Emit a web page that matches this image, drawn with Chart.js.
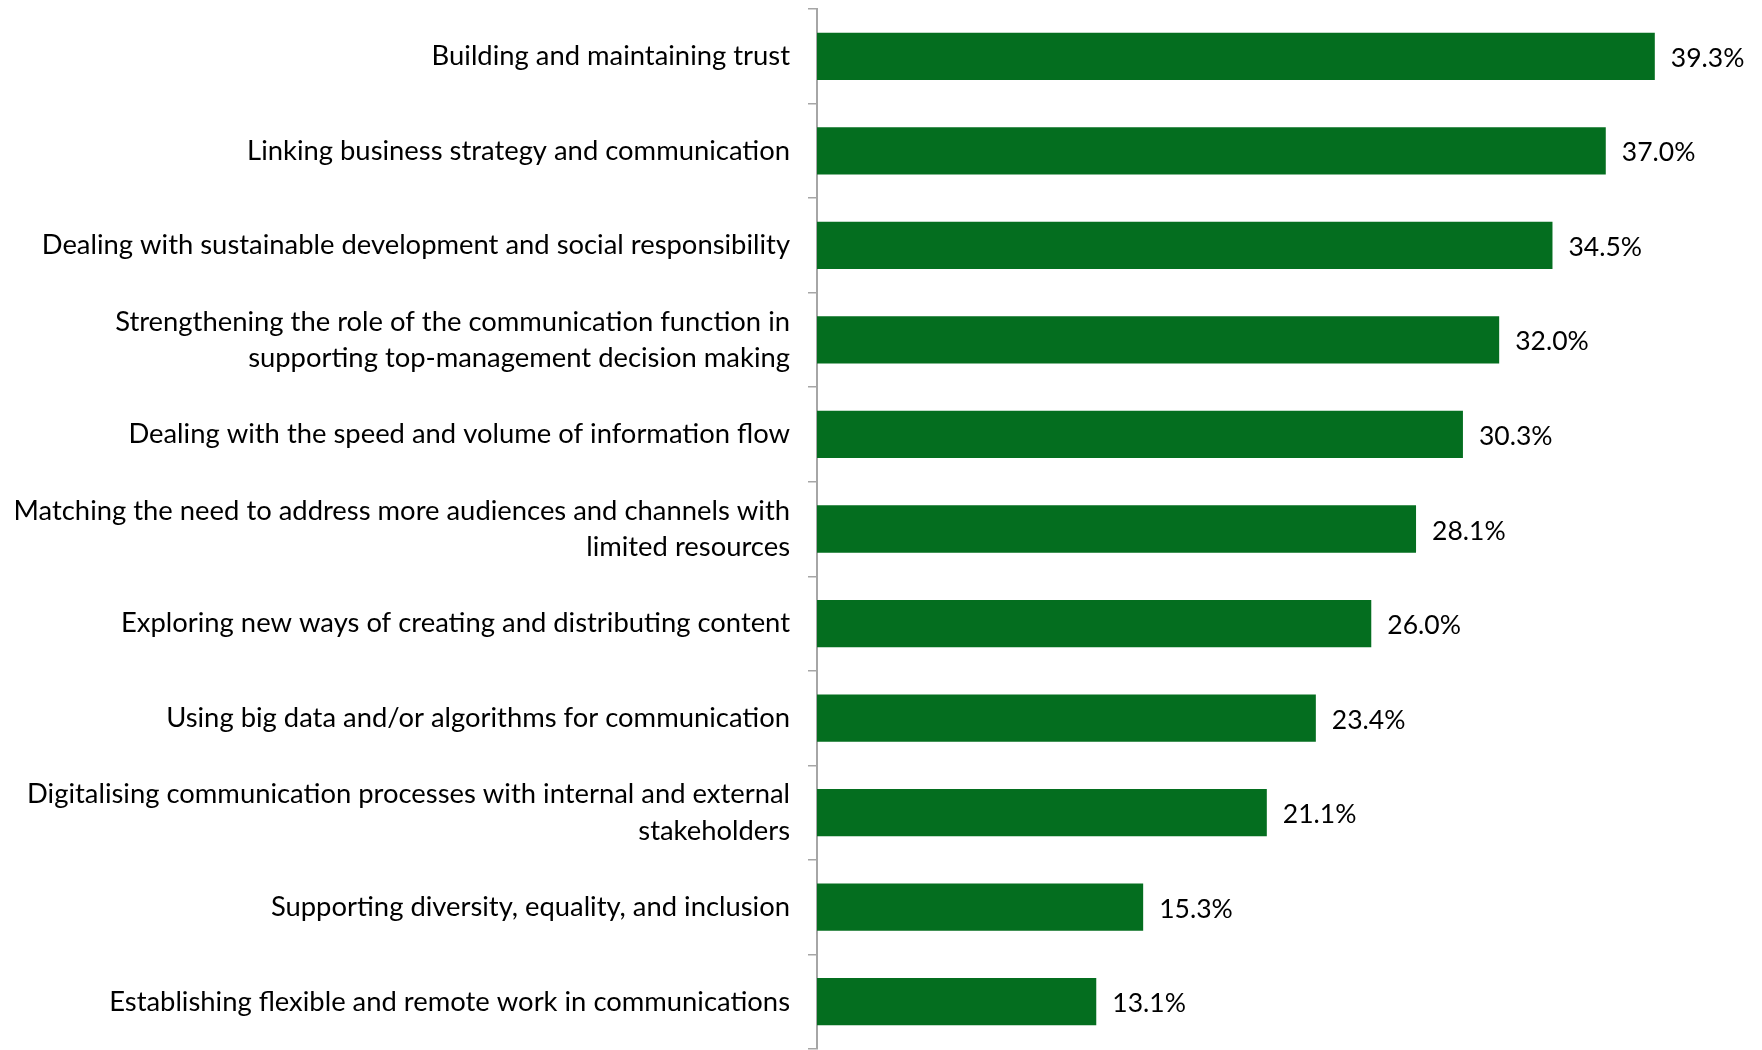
<!DOCTYPE html>
<html>
<head>
<meta charset="utf-8">
<script src="https://cdn.jsdelivr.net/npm/chart.js@4.4.1/dist/chart.umd.min.js"></script>
<style>
  html, body { margin: 0; padding: 0; background: #fff; }
  #wrap { width: 1762px; height: 1050px; }
</style>
</head>
<body>
<div id="wrap"><canvas id="chart"></canvas></div>
<script>
// challenges, top to bottom
var categories = [
  'Building and maintaining trust',
  'Linking business strategy and communication',
  'Dealing with sustainable development and social responsibility',
  ['Strengthening the role of the communication function in', 'supporting top-management decision making'],
  'Dealing with the speed and volume of information flow',
  ['Matching the need to address more audiences and channels with', 'limited resources'],
  'Exploring new ways of creating and distributing content',
  'Using big data and/or algorithms for communication',
  ['Digitalising communication processes with internal and external', 'stakeholders'],
  'Supporting diversity, equality, and inclusion',
  'Establishing flexible and remote work in communications'
];
var shares = [39.3, 37.0, 34.5, 32.0, 30.3, 28.1, 26.0, 23.4, 21.1, 15.3, 13.1];

var FONT = 'Lato, "Open Sans", sans-serif';
var GREEN = '#046e1f';
var AXIS = '#a6a6a6';

// simple value labels at the end of each bar
var valueLabels = {
  id: 'valueLabels',
  afterDatasetsDraw: function(chart) {
    var ctx = chart.ctx;
    var meta = chart.getDatasetMeta(0);
    ctx.save();
    ctx.font = '26.5px ' + FONT;
    ctx.fillStyle = '#000';
    ctx.textAlign = 'left';
    ctx.textBaseline = 'middle';
    meta.data.forEach(function(bar, i) {
      ctx.fillText(shares[i].toFixed(1) + '%', bar.x + 16, bar.y + 2);
    });
    ctx.restore();
  }
};

new Chart(document.getElementById('chart'), {
  type: 'bar',
  data: {
    labels: categories,
    datasets: [{
      data: shares,
      backgroundColor: GREEN,
      borderWidth: 0,
      categoryPercentage: 1,
      barPercentage: 0.5
    }]
  },
  options: {
    indexAxis: 'y',
    responsive: true,
    maintainAspectRatio: false,
    animation: false,
    layout: { padding: { top: 9, bottom: 1, right: 7, left: 0 } },
    plugins: {
      legend: { display: false },
      tooltip: { enabled: false }
    },
    scales: {
      x: {
        display: false,
        min: 0,
        max: 44
      },
      y: {
        afterFit: function(scale) {
          scale.width = 817;
          // no extra room for the first/last label
          scale.paddingTop = 0;
          scale.paddingBottom = 0;
        },
        border: { display: true, color: AXIS, width: 2 },
        grid: {
          display: true,
          drawOnChartArea: false,
          drawTicks: true,
          tickLength: 9,
          color: AXIS,
          lineWidth: 1.5,
          offset: true
        },
        ticks: {
          color: '#000',
          padding: 18,
          autoSkip: false,
          font: { family: FONT, size: 27.4, lineHeight: 1.32 }
        }
      }
    }
  },
  plugins: [valueLabels]
});
</script>
</body>
</html>
